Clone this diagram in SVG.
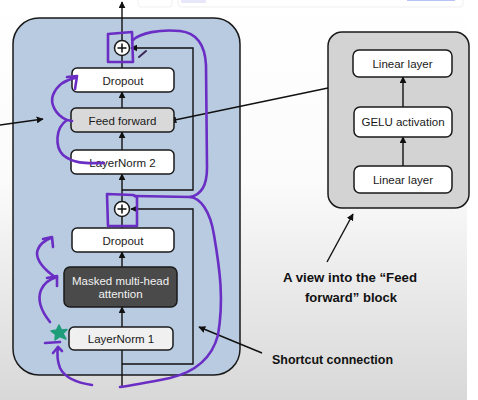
<svg xmlns="http://www.w3.org/2000/svg" width="478" height="400" viewBox="0 0 478 400">
<defs>
<linearGradient id="bg" x1="0" y1="0" x2="0" y2="1">
<stop offset="0" stop-color="#ffffff"/>
<stop offset="0.45" stop-color="#fbfbfb"/>
<stop offset="1" stop-color="#d8d8d8"/>
</linearGradient>
<marker id="ah" viewBox="0 0 10 10" refX="9" refY="5" markerWidth="7" markerHeight="7" markerUnits="userSpaceOnUse" orient="auto">
<path d="M0,0 L10,5 L0,10 Z" fill="#111"/>
</marker>
<style>
.box{stroke:#1a1a1a;stroke-width:1.5}
.w{fill:#ffffff}
.lbl{font-family:"Liberation Sans",Arial,sans-serif;font-size:11.5px;fill:#1a1a1a;text-anchor:middle}
.ann{font-family:"Liberation Sans",Arial,sans-serif;font-weight:bold;font-size:13.5px;fill:#111;text-anchor:start}
.ln{stroke:#111;stroke-width:1.4;fill:none}
.pu{stroke:#6a2ec4;stroke-width:2.6;fill:none;stroke-linecap:round;stroke-linejoin:round}
</style>
</defs>
<rect x="0" y="0" width="467" height="400" fill="url(#bg)"/>
<rect x="467" y="0" width="11" height="400" fill="#ffffff"/>
<g id="ui-strip" opacity="0.6">
<rect x="138" y="-4" width="34" height="11" rx="3" fill="#ffffff" stroke="#e6e6e6"/>
<rect x="178" y="-4" width="285" height="11" rx="3" fill="#ffffff" stroke="#e6e6e6"/>
<rect x="181" y="-2" width="25" height="5" rx="1" fill="#d8d8f6"/>
<rect x="407" y="-2" width="48" height="3" fill="#8a9cf0"/>
</g>

<g id="transformer-block">
<rect x="13" y="18" width="227" height="357" rx="26" fill="#b9cbe1" class="box"/>
</g>

<g id="ffn-view">
<rect x="328" y="32" width="141" height="176" rx="14" fill="#d3d3d3" class="box"/>
</g>

<g id="connectors">
<line x1="122" y1="40" x2="122" y2="2" class="ln" marker-end="url(#ah)"/>
<line x1="122" y1="68" x2="122" y2="56" class="ln"/>
<line x1="122" y1="108" x2="122" y2="92" class="ln" marker-end="url(#ah)"/>
<line x1="122" y1="150" x2="122" y2="132" class="ln" marker-end="url(#ah)"/>
<line x1="122" y1="202" x2="122" y2="174" class="ln" marker-end="url(#ah)"/>
<line x1="122" y1="228" x2="122" y2="216" class="ln"/>
<line x1="122" y1="267" x2="122" y2="252" class="ln" marker-end="url(#ah)"/>
<line x1="122" y1="327" x2="122" y2="307" class="ln" marker-end="url(#ah)"/>
<line x1="122" y1="386" x2="122" y2="350" class="ln"/>
<polyline points="122,190 193,190 193,48 131,48" class="ln" marker-end="url(#ah)"/>
<polyline points="122,364 193,364 193,209 131,209" class="ln" marker-end="url(#ah)"/>
<line x1="403" y1="107" x2="403" y2="77" class="ln" marker-end="url(#ah)"/>
<line x1="403" y1="166" x2="403" y2="137" class="ln" marker-end="url(#ah)"/>
<line x1="328" y1="88" x2="170" y2="121" class="ln" marker-end="url(#ah)"/>
<line x1="0" y1="125" x2="43" y2="119" class="ln" marker-end="url(#ah)"/>
<line x1="327" y1="262" x2="353" y2="214" class="ln" marker-end="url(#ah)"/>
<line x1="262" y1="353" x2="199" y2="327" class="ln" marker-end="url(#ah)"/>
</g>

<g id="add1">
<circle cx="122" cy="48" r="7.5" fill="#ffffff" class="box"/>
<path d="M117.5,48 H126.5 M122,43.5 V52.5" stroke="#111" stroke-width="1.5"/>
</g>
<g id="dropout1">
<rect x="72" y="68" width="102" height="24" rx="5" class="box w"/>
<text x="123" y="84.5" class="lbl">Dropout</text>
</g>
<g id="feed-forward">
<rect x="71" y="108" width="103" height="24" rx="5" fill="#d9d9d9" class="box"/>
<text x="122.5" y="124.5" class="lbl">Feed forward</text>
</g>
<g id="layernorm2">
<rect x="71" y="150" width="103" height="24" rx="5" class="box w"/>
<text x="122.5" y="166.5" class="lbl">LayerNorm 2</text>
</g>
<g id="add2">
<circle cx="122" cy="209" r="7.5" fill="#ffffff" class="box"/>
<path d="M117.5,209 H126.5 M122,204.5 V213.5" stroke="#111" stroke-width="1.5"/>
</g>
<g id="dropout2">
<rect x="72" y="228" width="102" height="24" rx="5" class="box w"/>
<text x="123" y="244.5" class="lbl">Dropout</text>
</g>
<g id="masked-mha">
<rect x="64" y="267" width="113" height="40" rx="6" fill="#4a4a4a" class="box"/>
<text x="120.5" y="285" class="lbl" style="fill:#f2f2f2">Masked multi-head</text>
<text x="120.5" y="298" class="lbl" style="fill:#f2f2f2">attention</text>
</g>
<g id="layernorm1">
<rect x="69" y="327" width="104" height="23" rx="5" fill="#f0f0f0" class="box"/>
<text x="121" y="342.5" class="lbl">LayerNorm 1</text>
</g>

<g id="linear2">
<rect x="353" y="50" width="99" height="27" rx="6" class="box w"/>
<text x="402.5" y="67.5" class="lbl">Linear layer</text>
</g>
<g id="gelu">
<rect x="354" y="107" width="98" height="30" rx="6" class="box w"/>
<text x="403" y="126" class="lbl">GELU activation</text>
</g>
<g id="linear1">
<rect x="354" y="166" width="98" height="27" rx="6" class="box w"/>
<text x="403" y="183.5" class="lbl">Linear layer</text>
</g>

<g id="annotations">
<text x="283" y="282" class="ann" textLength="134" lengthAdjust="spacingAndGlyphs">A view into the  “Feed</text>
<text x="305" y="302" class="ann" textLength="92" lengthAdjust="spacingAndGlyphs">forward” block</text>
<text x="272" y="364" class="ann" textLength="121" lengthAdjust="spacingAndGlyphs">Shortcut connection</text>
</g>

<g id="pen-marks">
<path d="M108,34 L132,32 L133,62 L108,62 Z" class="pu"/>
<path d="M133,40 C140,33 160,29 180,31 C198,33 205,46 206,65 L207,168 C207,186 201,195 190,197" class="pu"/>
<path d="M107,194 L133,195 L137,197 L137,226 L108,226 Z" class="pu"/>
<path d="M135,196 L190,197 C200,198 210,210 214,235 C220,270 224,300 218,335 C212,358 195,372 170,378 C150,382 135,385 120,387" class="pu"/>
<path d="M104,163 C90,163 75,165 63,155 C55,147 55,128 67,120 L72,121 M67,120 C55,115 50,103 53,95 C57,85 65,80 75,78" class="pu"/>
<path d="M67,77 L77,76 L75,89" class="pu"/>
<path d="M55,277 C45,270 37,262 37,253 C38,245 45,240 51,238" class="pu"/>
<path d="M43,239 L52,237 L53,247" class="pu"/>
<path d="M50,322 C42,312 37,300 41,290 C44,283 50,279 57,277" class="pu"/>
<path d="M47,278 L57,276 L57,286" class="pu"/>
<path d="M92,385 C78,383 65,378 60,368 C57,360 57,353 58,347" class="pu"/>
<path d="M53,353 L58,347 L62,351" class="pu"/>
<path d="M45,343 L60,342" class="pu"/>
<path d="M139,57 L146,51" stroke="#3a2a5a" stroke-width="2" stroke-linecap="round"/>
<path d="M59,325 L61.5,330 L67,329.5 L63,333.5 L66,339 L60,336.5 L55,340 L55.5,334.5 L51,331 L56.5,330 Z" fill="#1f9d7a" stroke="#1f9d7a" stroke-width="1.5" stroke-linejoin="round"/>
</g>
</svg>
